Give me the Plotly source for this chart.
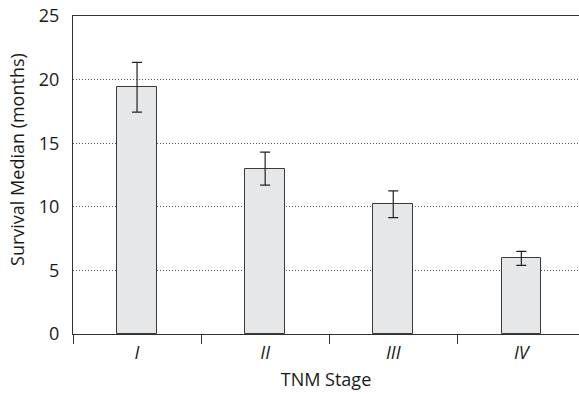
import plotly.graph_objects as go

stages = ["I", "II", "III", "IV"]
median_months = [19.4, 13.0, 10.2, 5.95]
error_months = [1.95, 1.3, 1.05, 0.55]
y_ticks = [0, 5, 10, 15, 20, 25]

FONT = "Open Sans"
FS = 18

fig = go.Figure(
    go.Bar(
        x=stages,
        y=median_months,
        width=0.31,
        marker=dict(color="#e6e7e8", line=dict(color="#3a3a3a", width=1)),
        error_y=dict(type="data", array=error_months, color="#222222",
                     thickness=1.2, width=5),
    )
)

fig.update_layout(
    width=579, height=396,
    margin=dict(l=73, r=0, t=16, b=62),
    paper_bgcolor="white", plot_bgcolor="white",
    font=dict(family=FONT, size=FS, color="#1a1a1a"),
    showlegend=False,
    bargap=0,
    annotations=[dict(
        text="Survival Median (months)", textangle=-90,
        xref="paper", yref="paper", x=-0.111, y=0.55,
        xanchor="center", yanchor="middle", showarrow=False,
        font=dict(family=FONT, size=FS),
    )],
)

fig.update_xaxes(
    range=[-0.5, 3.45],
    showline=True, linecolor="#333333", linewidth=1, mirror=True,
    ticks="outside", tickson="boundaries", ticklen=9, tickcolor="#333333", tickwidth=1,
    ticklabelstandoff=2,
    tickfont=dict(family=FONT, size=FS, style="italic"),
    showgrid=False,
    title=dict(text="TNM Stage", font=dict(family=FONT, size=FS), standoff=10),
)

fig.update_yaxes(
    range=[0, 25], tickvals=y_ticks,
    showline=True, linecolor="#333333", linewidth=1,
    ticks="", ticklabelstandoff=9,
    showgrid=True, gridcolor="#555555", griddash="1px,2px", gridwidth=1,
    zeroline=False,
    tickfont=dict(family=FONT, size=FS),
)

fig.write_html("out.html")
